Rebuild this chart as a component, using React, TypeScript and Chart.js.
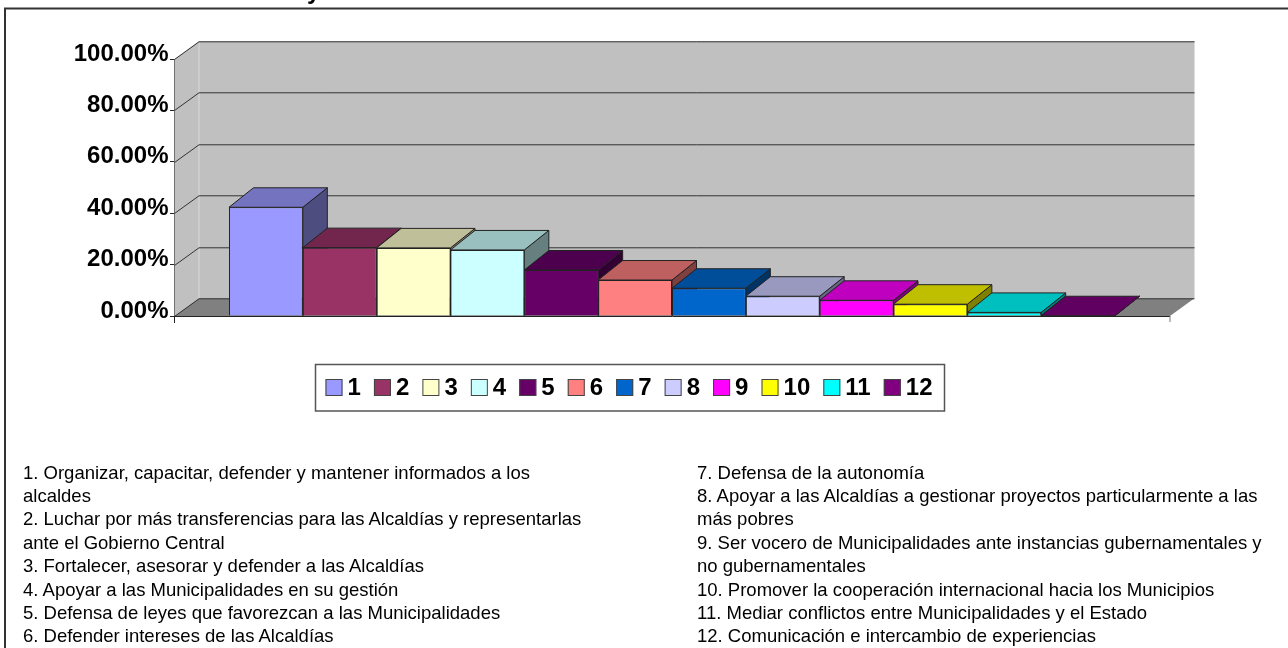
import React, { useEffect, useRef } from "react";
import { Chart, registerables } from "chart.js";

Chart.register(...registerables);

const seriesNames = ["1", "2", "3", "4", "5", "6", "7", "8", "9", "10", "11", "12"];
const shareValues = [42.3, 26.6, 26.5, 25.7, 17.9, 14, 10.8, 7.7, 6.1, 4.6, 1.4, 0.1];
const seriesColors = ["#9999FF", "#993366", "#FFFFCC", "#CCFFFF", "#660066", "#FF8080", "#0066CC", "#CCCCFF", "#FF00FF", "#FFFF00", "#00FFFF", "#800080"];
const notesLeft = [
  "1. Organizar, capacitar, defender y mantener informados a los",
  "alcaldes",
  "2. Luchar por más transferencias para las Alcaldías y representarlas",
  "ante el Gobierno Central",
  "3. Fortalecer, asesorar y defender a las Alcaldías",
  "4. Apoyar a las Municipalidades en su gestión",
  "5. Defensa de leyes que favorezcan a las Municipalidades",
  "6. Defender intereses de las Alcaldías",
];
const notesRight = [
  "7. Defensa de la autonomía",
  "8. Apoyar a las Alcaldías a gestionar proyectos particularmente a las",
  "más pobres",
  "9. Ser vocero de Municipalidades ante instancias gubernamentales y",
  "no gubernamentales",
  "10. Promover la cooperación internacional hacia los Municipios",
  "11. Mediar conflictos entre Municipalidades y el Estado",
  "12. Comunicación e intercambio de experiencias",
];
const titleFragment = "y";

const FONT = "'Liberation Sans', Arial, sans-serif";
const WALL_DX = 24.5;
const WALL_DY = 17.7;
const BAR_DX = 24.5;
const BAR_DY = 19.5;
const LINE = "#222222";

function shade(hex: string, f: number) {
  const n = parseInt(hex.slice(1), 16);
  const c = [(n >> 16) & 255, (n >> 8) & 255, n & 255].map((v) => Math.round(v * f));
  return `rgb(${c[0]},${c[1]},${c[2]})`;
}

function poly(ctx: CanvasRenderingContext2D, pts: number[][], fill: string, stroke?: string) {
  ctx.beginPath();
  pts.forEach((p, i) => (i ? ctx.lineTo(p[0], p[1]) : ctx.moveTo(p[0], p[1])));
  ctx.closePath();
  ctx.fillStyle = fill;
  ctx.fill();
  if (stroke) {
    ctx.strokeStyle = stroke;
    ctx.lineWidth = 1;
    ctx.stroke();
  }
}

const scenePlugin = {
  id: "scene3d",
  beforeDatasetsDraw(chart: any) {
    const { ctx, chartArea: a, scales } = chart;
    const y = scales.y;
    const L = a.left + 0.5;
    const R = a.right;
    const B = y.getPixelForValue(0);
    ctx.save();
    // walls
    poly(ctx, [[L, B], [L + WALL_DX, B - WALL_DY], [L + WALL_DX, a.top - WALL_DY], [L, a.top]], "#C0C0C0");
    ctx.fillStyle = "#C0C0C0";
    ctx.fillRect(L + WALL_DX, a.top - WALL_DY, R - L, B - a.top);
    // floor
    poly(ctx, [[L, B], [L + WALL_DX, B - WALL_DY], [R + WALL_DX, B - WALL_DY], [R, B]], "#808080");
    // wall corner
    ctx.strokeStyle = "#DADADA";
    ctx.lineWidth = 1;
    ctx.beginPath();
    ctx.moveTo(L + WALL_DX, a.top - WALL_DY);
    ctx.lineTo(L + WALL_DX, B - WALL_DY);
    ctx.stroke();
    // gridlines from the value axis ticks
    ctx.strokeStyle = "#333333";
    y.ticks.forEach((t: any) => {
      const py = Math.round(y.getPixelForValue(t.value)) + 0.5;
      ctx.beginPath();
      ctx.moveTo(L, py);
      ctx.lineTo(L + WALL_DX, py - WALL_DY);
      ctx.lineTo(R + WALL_DX, py - WALL_DY);
      ctx.stroke();
    });
    // floor front edge and end ticks
    ctx.strokeStyle = LINE;
    ctx.beginPath();
    ctx.moveTo(L, B + 0.5);
    ctx.lineTo(R, B + 0.5);
    ctx.moveTo(L, B);
    ctx.lineTo(L, B + 7);
    ctx.stroke();
    ctx.strokeStyle = "#777777";
    ctx.beginPath();
    ctx.moveTo(R, B);
    ctx.lineTo(R, B + 6);
    ctx.stroke();
    // bar tops and sides, left to right
    chart.data.datasets.forEach((ds: any, i: number) => {
      const el = chart.getDatasetMeta(i).data[0];
      const { x, y: top, base, width } = el.getProps(["x", "y", "base", "width"], true);
      const l = x - width / 2;
      const r = x + width / 2;
      const c = ds.backgroundColor as string;
      poly(ctx, [[r, top], [r + BAR_DX, top - BAR_DY], [r + BAR_DX, base - BAR_DY], [r, base]], shade(c, 0.5), LINE);
      poly(ctx, [[l, top], [l + BAR_DX, top - BAR_DY], [r + BAR_DX, top - BAR_DY], [r, top]], shade(c, 0.75), LINE);
    });
    ctx.restore();
  },
  afterDraw(chart: any) {
    const { ctx, width } = chart;
    ctx.save();
    // clipped remnant of the title and the outer frame
    ctx.font = `bold 24px ${FONT}`;
    ctx.fillStyle = "#000";
    ctx.textAlign = "left";
    ctx.textBaseline = "alphabetic";
    ctx.fillText(titleFragment, 307, -1);
    ctx.strokeStyle = "#333333";
    ctx.lineWidth = 2;
    ctx.beginPath();
    ctx.moveTo(5, chart.height);
    ctx.lineTo(5, 8.5);
    ctx.lineTo(width, 8.5);
    ctx.stroke();
    // legend
    const boxTop = 364.5;
    const boxH = 46.5;
    const sw = 17;
    ctx.strokeStyle = "#555555";
    ctx.lineWidth = 1.5;
    ctx.strokeRect(315.5, boxTop, 629, boxH);
    ctx.font = `bold 24px ${FONT}`;
    ctx.textBaseline = "middle";
    let x = 325.5;
    chart.data.datasets.forEach((ds: any) => {
      ctx.fillStyle = ds.backgroundColor;
      ctx.fillRect(x, 379, sw, sw);
      ctx.strokeStyle = "#444444";
      ctx.lineWidth = 1;
      ctx.strokeRect(x + 0.5, 379.5, sw - 1, sw - 1);
      ctx.fillStyle = "#000";
      ctx.fillText(ds.label, x + sw + 5, 388.5);
      x += sw + 5 + ctx.measureText(ds.label).width + 13.1;
    });
    ctx.restore();
  },
};

const noteStyle: React.CSSProperties = {
  position: "absolute",
  top: 460.5,
  font: `18.5px/23.4px ${FONT}`,
  color: "#000",
  whiteSpace: "nowrap",
};

export default function App() {
  const ref = useRef<HTMLCanvasElement>(null);
  useEffect(() => {
    const chart = new Chart(ref.current as HTMLCanvasElement, {
      type: "bar",
      data: {
        labels: [""],
        datasets: seriesNames.map((name, i) => ({
          label: name,
          data: [shareValues[i]],
          backgroundColor: seriesColors[i],
          borderColor: LINE,
          borderWidth: 1,
          barPercentage: 1,
          categoryPercentage: 0.8896,
        })),
      },
      options: {
        animation: false,
        responsive: false,
        layout: { padding: { top: 59, bottom: 332, right: 118, left: 0 } },
        plugins: { legend: { display: false }, tooltip: { enabled: false }, title: { display: false } },
        scales: {
          x: { display: false },
          y: {
            min: 0,
            max: 100,
            afterFit: (s: any) => {
              s.width = 174;
            },
            border: { color: LINE },
            grid: { drawOnChartArea: false, tickLength: 4, color: LINE },
            ticks: {
              stepSize: 20,
              padding: 1.5,
              labelOffset: -5,
              color: "#000",
              font: { family: FONT, size: 24, weight: "bold" },
              callback: (v: any) => `${Number(v).toFixed(2)}%`,
            },
          },
        },
      },
      plugins: [scenePlugin],
    } as any);
    return () => chart.destroy();
  }, []);
  return (
    <div style={{ position: "absolute", left: 0, top: 0, width: 1288, height: 648, overflow: "hidden", background: "#fff" }}>
      <canvas ref={ref} width={1288} height={648} style={{ display: "block" }} />
      <div style={{ ...noteStyle, left: 23 }}>
        {notesLeft.map((t) => (
          <div key={t}>{t}</div>
        ))}
      </div>
      <div style={{ ...noteStyle, left: 697 }}>
        {notesRight.map((t) => (
          <div key={t}>{t}</div>
        ))}
      </div>
    </div>
  );
}
